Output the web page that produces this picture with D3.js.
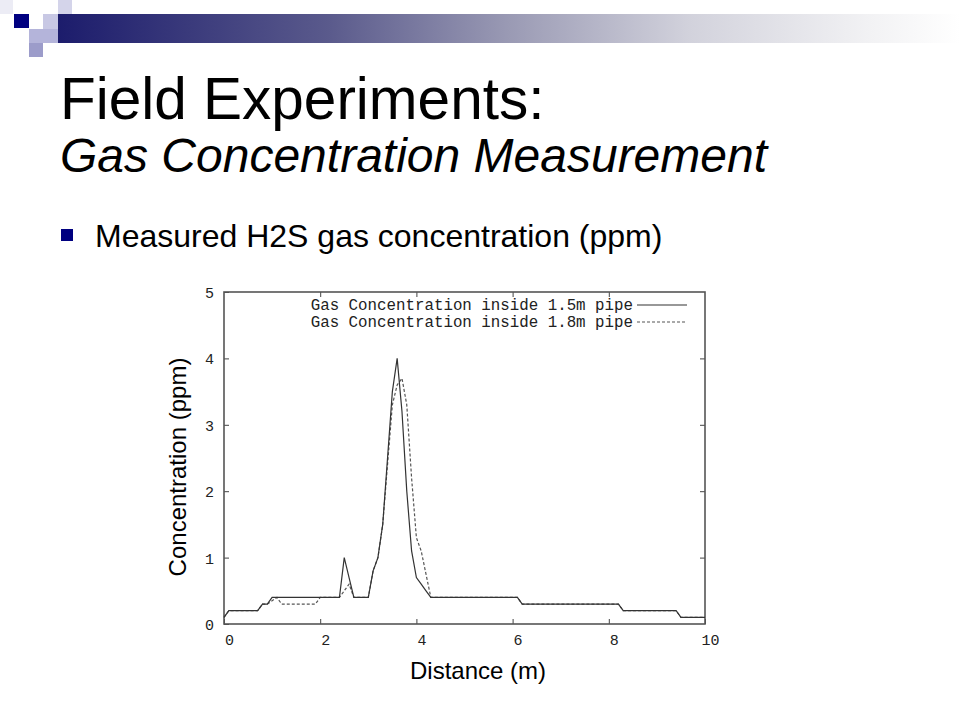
<!DOCTYPE html>
<html>
<head>
<meta charset="utf-8">
<script src="https://cdn.jsdelivr.net/npm/d3@7/dist/d3.min.js"></script>
<style>
  html, body { margin: 0; padding: 0; background: #fff; }
  svg { display: block; }
</style>
</head>
<body>
<svg id="slide" width="960" height="720"></svg>
<script>
// ---- data ----
const distance = [0, 0.1, 0.7, 0.8, 0.9, 1.0, 1.1, 1.2, 1.9, 2.0, 2.4, 2.5, 2.6, 2.7, 3.0, 3.1, 3.2, 3.3, 3.4, 3.5, 3.6, 3.7, 3.8, 3.9, 4.0, 4.1, 4.2, 4.3, 6.1, 6.2, 8.2, 8.3, 9.4, 9.5, 10];
const pipe15 = [0.1, 0.2, 0.2, 0.3, 0.3, 0.4, 0.4, 0.4, 0.4, 0.4, 0.4, 1.0, 0.7, 0.4, 0.4, 0.8, 1.0, 1.5, 2.5, 3.5, 4.0, 3.2, 2.0, 1.1, 0.7, 0.6, 0.5, 0.4, 0.4, 0.3, 0.3, 0.2, 0.2, 0.1, 0.1];
const pipe18 = [0.1, 0.2, 0.2, 0.3, 0.3, 0.35, 0.4, 0.3, 0.3, 0.4, 0.4, 0.5, 0.6, 0.4, 0.4, 0.8, 1.0, 1.5, 2.4, 3.3, 3.6, 3.7, 3.3, 2.2, 1.3, 1.1, 0.75, 0.4, 0.4, 0.3, 0.3, 0.2, 0.2, 0.1, 0.1];
const seriesNames = ["Gas Concentration inside 1.5m pipe", "Gas Concentration inside 1.8m pipe"];
const xTicks = [0, 2, 4, 6, 8, 10];
const yTicks = [0, 1, 2, 3, 4, 5];

const svg = d3.select("#slide");
const defs = svg.append("defs");

// ---- slide header decoration ----
const grad = defs.append("linearGradient").attr("id", "hdr").attr("x1", "0").attr("x2", "1");
[[0, "#1c1c6c"], [0.3, "#5a5a8c"], [0.5, "#9a9ab4"], [0.7, "#d2d2dc"], [0.9, "#f2f2f4"], [1, "#ffffff"]]
  .forEach(([o, c]) => grad.append("stop").attr("offset", o).attr("stop-color", c));
svg.append("rect").attr("x", 58).attr("y", 14).attr("width", 902).attr("height", 29).attr("fill", "url(#hdr)");
const squares = [
  [0, 0, 13, 14, "#ececf5"],
  [14, 14, 15, 14, "#000080"],
  [58, 0, 14, 14, "#d4d4ea"],
  [29, 29, 29, 14, "#b4b4da"],
  [29, 43, 14, 14, "#9c9cca"],
  [43, 14, 15, 15, "#c8c8e4"]
];
svg.selectAll("rect.sq").data(squares).enter().append("rect")
  .attr("class", "sq")
  .attr("x", d => d[0]).attr("y", d => d[1]).attr("width", d => d[2]).attr("height", d => d[3])
  .attr("fill", d => d[4]);

// ---- titles ----
const sans = "'Liberation Sans', Arial, sans-serif";
svg.append("text").attr("x", 60).attr("y", 119)
  .style("font-family", sans).style("font-size", "58.5px")
  .attr("fill", "#000").text("Field Experiments:");
svg.append("text").attr("x", 60).attr("y", 172)
  .style("font-family", sans).style("font-size", "48px")
  .style("font-style", "italic").attr("fill", "#000").text("Gas Concentration Measurement");
svg.append("rect").attr("x", 61).attr("y", 229).attr("width", 12).attr("height", 12).attr("fill", "#000080");
svg.append("text").attr("x", 95).attr("y", 247)
  .style("font-family", sans).style("font-size", "32px")
  .attr("fill", "#000").text("Measured H2S gas concentration (ppm)");

// ---- chart ----
const L = 224, R = 705, T = 292, B = 624;
const x = d3.scaleLinear().domain([0, 10]).range([L, R]);
const y = d3.scaleLinear().domain([0, 5]).range([B, T]);
const mono = "'Liberation Mono', 'Courier New', monospace";

const g = svg.append("g");

// ticks (inward, mirrored)
const tickLen = 5;
const xBottom = d3.axisBottom(x).tickValues(xTicks).tickSizeInner(-tickLen).tickSizeOuter(0).tickFormat(d => d);
const xTop = d3.axisTop(x).tickValues(xTicks.slice(1, -1)).tickSizeInner(-tickLen).tickSizeOuter(0).tickFormat("");
const yLeft = d3.axisLeft(y).tickValues(yTicks).tickSizeInner(-tickLen).tickSizeOuter(0).tickFormat(d => d);
const yRight = d3.axisRight(y).tickValues(yTicks.slice(1, -1)).tickSizeInner(-tickLen).tickSizeOuter(0).tickFormat("");

function styleAxis(sel) {
  sel.select(".domain").remove();
  sel.selectAll(".tick line").attr("stroke", "#444").attr("stroke-width", 1);
  sel.selectAll(".tick text").attr("fill", "#222").style("font-family", mono).style("font-size", "15px");
}
const gxb = g.append("g").attr("transform", `translate(0,${B})`).call(xBottom).call(styleAxis);
gxb.selectAll(".tick text").attr("y", 0).attr("dy", 0).attr("transform", "translate(5,21)");
g.append("g").attr("transform", `translate(0,${T})`).call(xTop).call(styleAxis);
const gyl = g.append("g").attr("transform", `translate(${L},0)`).call(yLeft).call(styleAxis);
gyl.selectAll(".tick text").attr("x", -10).attr("dy", "0.36em");
g.append("g").attr("transform", `translate(${R},0)`).call(yRight).call(styleAxis);

// frame
g.append("rect").attr("x", L).attr("y", T).attr("width", R - L).attr("height", B - T)
  .attr("fill", "none").attr("stroke", "#555").attr("stroke-width", 1.6);

// lines
const pts15 = distance.map((d, i) => [d, pipe15[i]]);
const pts18 = distance.map((d, i) => [d, pipe18[i]]);
const line = d3.line().x(d => x(d[0])).y(d => y(d[1]));
g.append("path").datum(pts18).attr("d", line).attr("fill", "none")
  .attr("stroke", "#555").attr("stroke-width", 1.2).attr("stroke-dasharray", "3,2");
g.append("path").datum(pts15).attr("d", line).attr("fill", "none")
  .attr("stroke", "#333").attr("stroke-width", 1.2);

// legend
const legY = [305, 322];
seriesNames.forEach((name, i) => {
  g.append("text").attr("x", 633).attr("y", legY[i] + 5).attr("text-anchor", "end")
    .style("font-family", mono).style("font-size", "15.8px").attr("fill", "#222").text(name);
  g.append("line").attr("x1", 637).attr("x2", 687).attr("y1", legY[i]).attr("y2", legY[i])
    .attr("stroke", i === 0 ? "#333" : "#555").attr("stroke-width", 1.2)
    .attr("stroke-dasharray", i === 0 ? null : "3,2");
});

// axis titles
svg.append("text").attr("x", 478).attr("y", 679).attr("text-anchor", "middle")
  .style("font-family", sans).style("font-size", "24px")
  .attr("fill", "#000").text("Distance (m)");
svg.append("text").attr("transform", "translate(186,467) rotate(-90)").attr("text-anchor", "middle")
  .style("font-family", sans).style("font-size", "24px")
  .attr("fill", "#000").text("Concentration (ppm)");
</script>
</body>
</html>
